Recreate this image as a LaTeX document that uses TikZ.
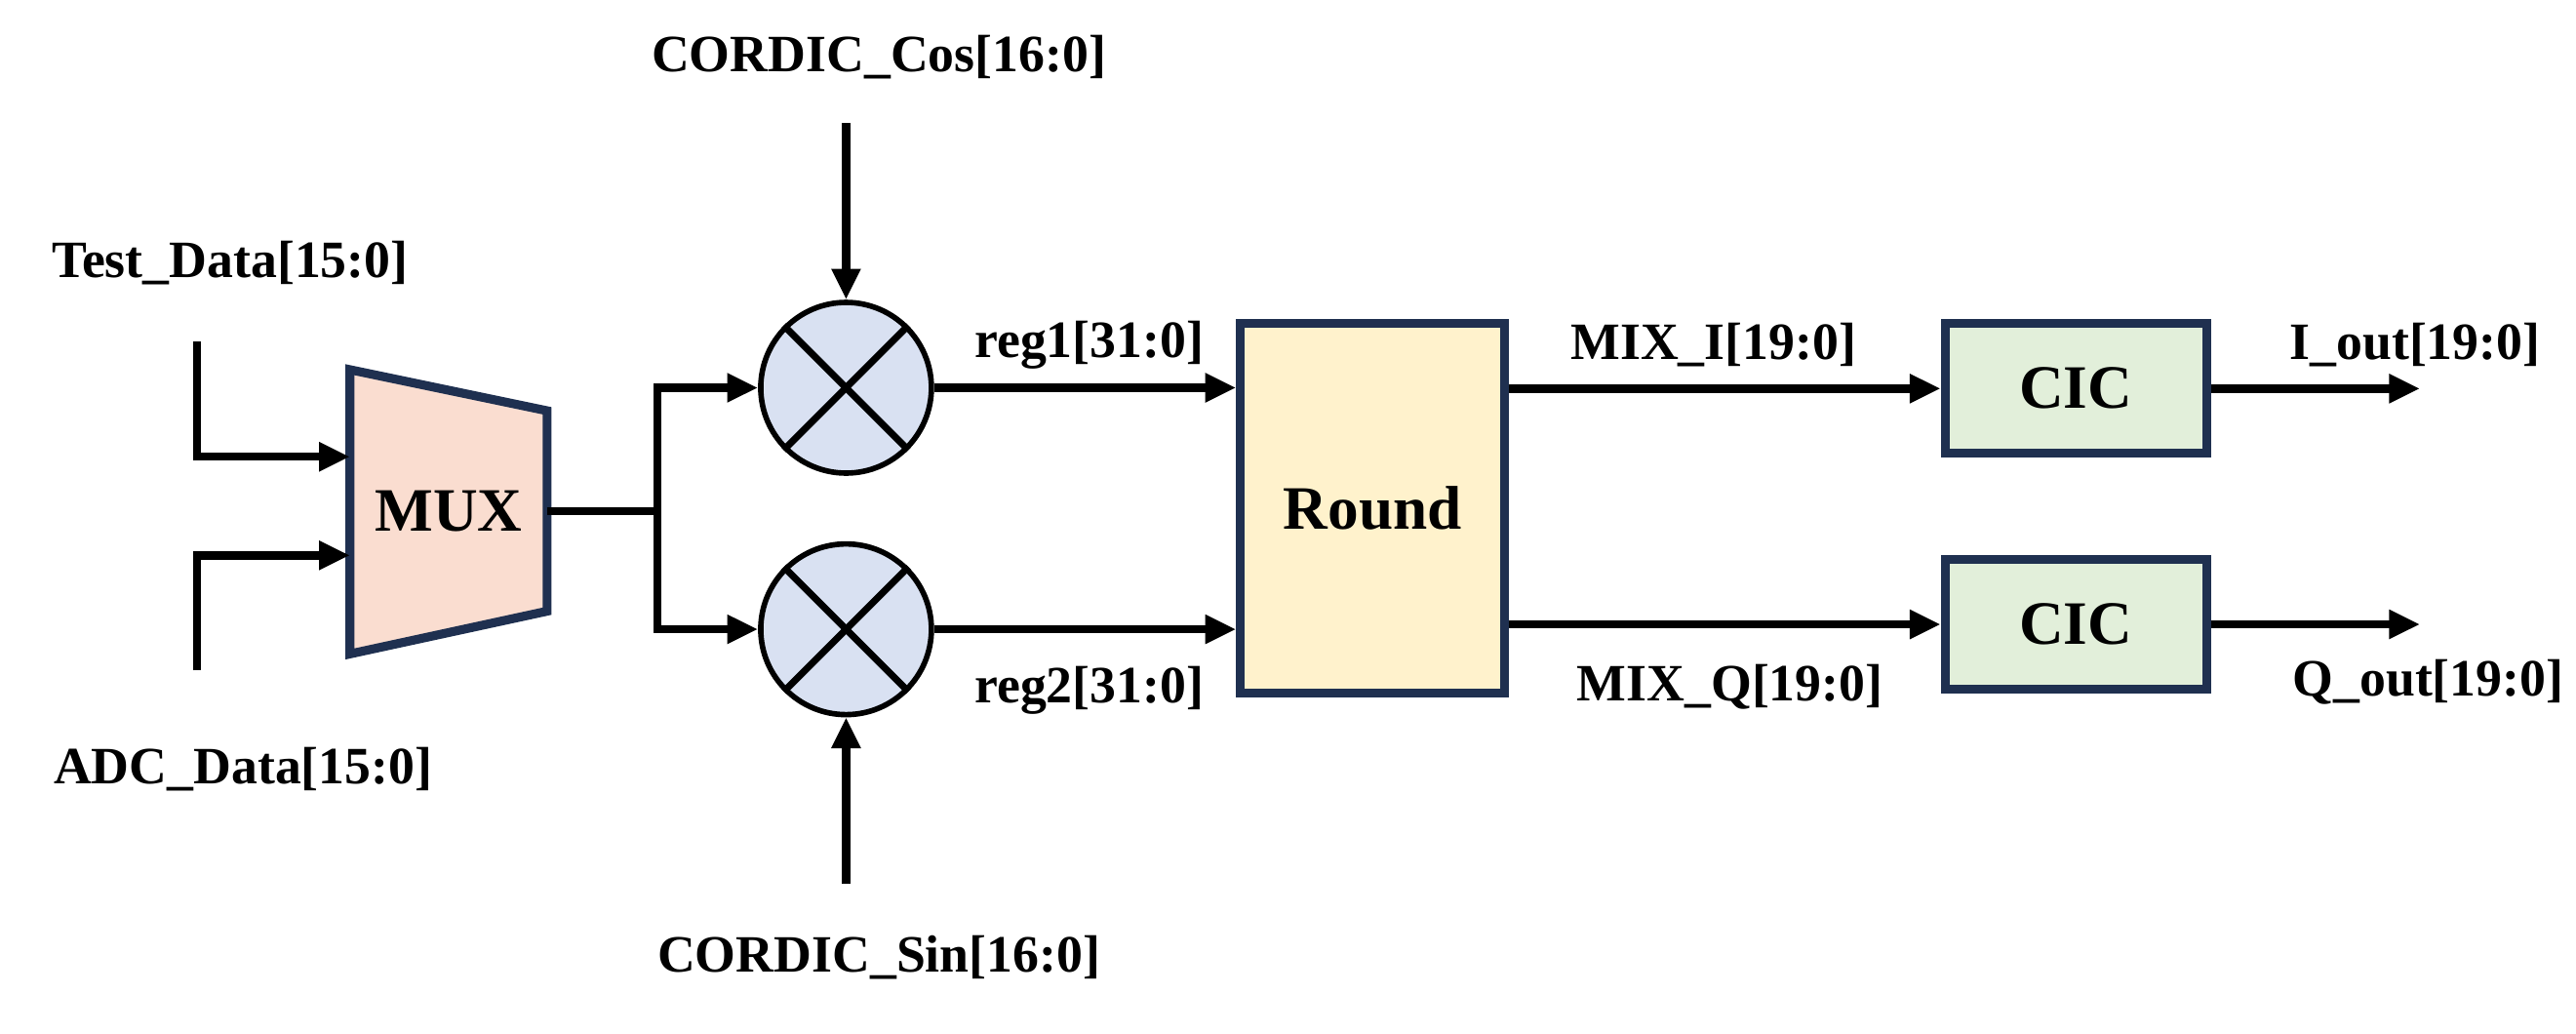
\documentclass[tikz,border=0pt]{standalone}
\usepackage{fontspec}
\setmainfont{Liberation Serif}
\usetikzlibrary{arrows.meta}
\definecolor{navy}{HTML}{1F3050}
\definecolor{muxfill}{HTML}{FADDD0}
\begin{document}
\begin{tikzpicture}[x=0.016843cm,y=-0.016843cm,
  wire/.style={line width=2.4pt},
  arr/.style={wire,-{Triangle[length=9pt,width=8pt]}},
  lbl/.style={font=\fontsize{15.3}{18}\selectfont\bfseries},
  blk/.style={draw=navy,line width=2.6pt},
  mul/.style={circle,draw=black,line width=1.6pt,minimum size=1.75cm,inner sep=0pt}]
\useasboundingbox (0,0) rectangle (1568,629);
% labels
\node[lbl] (tdl) at (140,160) {Test\_Data[15:0]};
\node[lbl] (adl) at (148,468) {ADC\_Data[15:0]};
\node[lbl] (cosl) at (535,35) {CORDIC\_Cos[16:0]};
\node[lbl] (sinl) at (535,583) {CORDIC\_Sin[16:0]};
\node[lbl] (r1l) at (663,210) {reg1[31:0]};
\node[lbl] (r2l) at (663,420) {reg2[31:0]};
\node[lbl] (mil) at (1043,210) {MIX\_I[19:0]};
\node[lbl] (mql) at (1053,418) {MIX\_Q[19:0]};
\node[lbl] (iol) at (1470,210) {I\_out[19:0]};
\node[lbl] (qol) at (1478,415) {Q\_out[19:0]};
% MUX
\draw[blk,fill=muxfill] (213,225) -- (333,250) -- (333,372) -- (213,398) -- cycle;
\node[lbl,font=\fontsize{18}{21}\selectfont\bfseries] (mux) at (273,311) {MUX};
\coordinate (muxa) at (213,278); \coordinate (muxb) at (213,338); \coordinate (muxo) at (333,311);
\coordinate (ta) at (120,208); \coordinate (aa) at (120,408);
\draw[arr] (ta) |- (muxa);
\draw[arr] (aa) |- (muxb);
% multipliers
\node[mul,fill={rgb,255:red,217;green,225;blue,242}] (m1) at (515,236) {};
\node[mul,fill={rgb,255:red,217;green,225;blue,242}] (m2) at (515,383) {};
\foreach \m in {m1,m2}{
 \draw[line width=2pt] (\m.45) -- (\m.225); \draw[line width=2pt] (\m.135) -- (\m.315);}
\coordinate (sp) at (400,311);
\draw[wire] (muxo) -- (sp);
\draw[arr] (sp) |- (m1.west);
\draw[arr] (sp) |- (m2.west);
\coordinate (cs) at (515,75); \coordinate (ss) at (515,538);
\draw[arr] (cs) -- (m1.north);
\draw[arr] (ss) -- (m2.south);
% round
\node[blk,fill={rgb,255:red,255;green,242;blue,204},minimum width=2.71cm,minimum height=3.79cm,lbl,font=\fontsize{18}{21}\selectfont\bfseries] (rnd) at (835.5,309.5) {Round};
\draw[arr] (m1.east) -- (rnd.west |- m1);
\draw[arr] (m2.east) -- (rnd.west |- m2);
% CIC
\node[blk,fill={rgb,255:red,226;green,239;blue,218},minimum width=2.68cm,minimum height=1.33cm,lbl,font=\fontsize{18}{21}\selectfont\bfseries] (c1) at (1263.5,236.5) {CIC};
\node[blk,fill={rgb,255:red,226;green,239;blue,218},minimum width=2.68cm,minimum height=1.33cm,lbl,font=\fontsize{18}{21}\selectfont\bfseries] (c2) at (1263.5,380) {CIC};
\draw[arr] (rnd.east |- c1) -- (c1.west);
\draw[arr] (rnd.east |- c2) -- (c2.west);
\coordinate (io) at (1473,236.5); \coordinate (qo) at (1473,380);
\draw[arr] (c1.east) -- (io);
\draw[arr] (c2.east) -- (qo);
\end{tikzpicture}
\end{document}
